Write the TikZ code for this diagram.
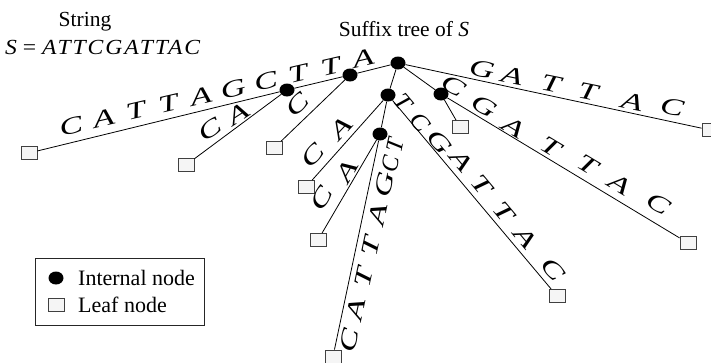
\documentclass[tikz,border=0pt]{standalone}
\usepackage{fontspec}
\setmainfont{Liberation Serif}
\usepackage{graphicx}
\usetikzlibrary{shapes.geometric}
\tikzset{
  internal/.style={ellipse, fill=black, minimum width=15pt, minimum height=13pt, inner sep=0pt},
  leaf/.style={rectangle, draw=black!75, fill=black!4, line width=0.9pt, minimum width=16pt, minimum height=13pt, inner sep=0pt},
  edge/.style={line width=0.8pt, black},
  txt/.style={font=\fontsize{21.5}{25}\selectfont, inner sep=0pt},
  seqletter/.style={font=\fontsize{24}{27}\selectfont\itshape, inner sep=0pt, text height=15.5pt, text depth=0pt},
  legendbox/.style={draw=black!85, line width=0.9pt, inner sep=0pt},
}
% #1 horizontal stretch, #2 name prefix, #3 angle, #4 list x/y/letter
\newcommand{\seqlabel}[4][1.45]{%
  \foreach \px/\py/\ch [count=\k] in {#4}
    {\node[seqletter, rotate=#3] (#2-\k) at (\px,\py) {\scalebox{#1}[1]{\ch}};}%
}
\begin{document}
\begin{tikzpicture}[x=1pt,y=-1pt]
\useasboundingbox (0,0) rectangle (711,362);
% titles
\node[txt, anchor=base] (tstring) at (85,26) {String};
\node[txt, anchor=base west] (tseq) at (5,54) {\scalebox{1.1}[1]{\textit{S} = {\addfontfeatures{LetterSpace=8}\textit{ATTCGATTAC}}}};
\node[txt, anchor=base] (ttree) at (404,36) {Suffix tree of \textit{S}};
% internal nodes
\node[internal] (R) at (398,63) {};
\node[internal] (N1) at (350,75) {};
\node[internal] (N2) at (287,90) {};
\node[internal] (N3) at (388,95) {};
\node[internal] (N4) at (380,134) {};
\node[internal] (N5) at (441,94) {};
% leaves
\node[leaf] (La) at (29,153) {};
\node[leaf] (Lb) at (186,165) {};
\node[leaf] (Lc) at (274,148) {};
\node[leaf] (Ld) at (306,187) {};
\node[leaf] (Le) at (318,240) {};
\node[leaf] (Lf) at (333,356.5) {};
\node[leaf] (Lg) at (460,127) {};
\node[leaf] (Lh) at (710,130) {};
\node[leaf] (Li) at (688,243) {};
\node[leaf] (Lj) at (557,296) {};
% edges
\draw[edge] (R) -- (N1);
\draw[edge] (N1) -- (N2);
\draw[edge] (N2) -- (La);
\draw[edge] (N2) -- (Lb);
\draw[edge] (N1) -- (Lc);
\draw[edge] (R) -- (N3);
\draw[edge] (N3) -- (N4);
\draw[edge] (N3) -- (Ld);
\draw[edge] (N3) -- (Lj);
\draw[edge] (N4) -- (Le);
\draw[edge] (N4) -- (Lf);
\draw[edge] (R) -- (N5);
\draw[edge] (N5) -- (Lg);
\draw[edge] (N5) -- (Li);
\draw[edge] (R) -- (Lh);
% edge labels
\seqlabel{la}{13}{71/126/C, 103.4/118.6/A, 135.9/111.1/T, 168.3/103.7/T, 200.8/96.2/A, 233.2/88.8/G, 265.7/81.3/C, 298.1/73.9/T, 330.6/66.4/T, 363/59/A}
\seqlabel{lb}{33}{210/130/C, 238/114/A}
\seqlabel{lc}{44}{297/105/C}
\seqlabel{ld}{47}{313/156/C, 341/128/A}
\seqlabel{le}{60}{322/199/C, 347/171/A}
\seqlabel{lf}{78}{349/341/C, 356.3/309.3/A, 363.7/277.6/T, 371/246/T, 378.4/214.2/A, 385/184.5/G}
\seqlabel[1.0]{lft}{78}{391/164/C, 395.5/145/T}
\seqlabel[1.1]{lgt}{-50}{403/102/T, 420/122/C}
\seqlabel{lg}{-50}{440/142/G, 461/161/A, 482/185/T, 504/212/T, 525/238/A, 553/269/C}
\seqlabel{lh}{-11.5}{482/69/G, 512/76/A, 551/84/T, 588/92/T, 632/102/A, 672/107/C}
\seqlabel{li}{-31}{453/86/C, 484/106/G, 514/127/A, 551/147/T, 588/165/T, 620/184/A, 658/204/C}
% legend
\node[legendbox, minimum width=169pt, minimum height=67pt] (legend) at (119.5,291.5) {};
\node[internal] (legint) at (56,278) {};
\node[leaf] (legleaf) at (56,305) {};
\node[txt, anchor=base west, font=\fontsize{22}{25}\selectfont] (legtint) at (78,285) {Internal node};
\node[txt, anchor=base west, font=\fontsize{22}{25}\selectfont] (legtleaf) at (78,312) {Leaf node};
\end{tikzpicture}
\end{document}
